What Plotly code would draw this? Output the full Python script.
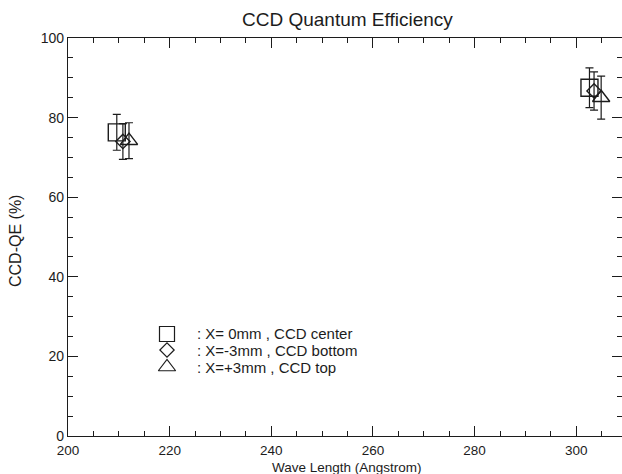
import plotly.graph_objects as go

# Measured CCD quantum efficiency at two wavelengths, three CCD positions
wavelength_center = [209.6, 302.6]
qe_center = [76.3, 87.5]
err_center = [4.5, 5.0]

wavelength_bottom = [210.8, 303.5]
qe_bottom = [74.0, 86.7]
err_bottom = [4.5, 4.8]

wavelength_top = [212.0, 304.9]
qe_top = [74.2, 85.0]
err_top = [4.5, 5.4]

legend_labels = [": X= 0mm , CCD center", ": X=-3mm , CCD bottom", ": X=+3mm , CCD top"]

W, H = 622, 474
ML, MR, MT, MB = 68, 0, 38, 38
INK = "#1c1c1c"
FONT = "Liberation Sans, Arial, Helvetica, sans-serif"


def px_x(px):
    return (px - ML) / (W - ML - MR)


def px_y(py):
    return (H - MB - py) / (H - MT - MB)


fig = go.Figure()
series = [
    (wavelength_center, qe_center, err_center, "square-open", 17),
    (wavelength_bottom, qe_bottom, err_bottom, "diamond-open", 11),
    (wavelength_top, qe_top, err_top, "triangle-up-open", 15),
]
for xs, ys, es, sym, size in series:
    fig.add_trace(go.Scatter(
        x=xs, y=ys, mode="markers",
        marker=dict(symbol=sym, size=size, color=INK, line=dict(width=1.4, color=INK)),
        error_y=dict(type="data", array=es, visible=True, color=INK, thickness=1.2, width=4),
        cliponaxis=False, showlegend=False,
    ))

# Legend keys drawn on a hidden pixel-scaled overlay axis
key_x = [167, 167, 167]
key_y = [334, 350, 367]
key_symbols = ["square-open", "diamond-open", "triangle-up-open"]
key_sizes = [15, 11, 15]
for kx, ky, sym, size in zip(key_x, key_y, key_symbols, key_sizes):
    fig.add_trace(go.Scatter(
        x=[kx], y=[ky], mode="markers", xaxis="x2", yaxis="y2",
        marker=dict(symbol=sym, size=size, color=INK, line=dict(width=1.2, color=INK)),
        cliponaxis=False, showlegend=False, hoverinfo="skip",
    ))

axis_common = dict(
    showline=True, linecolor=INK, linewidth=1.3, mirror="allticks",
    ticks="inside", ticklen=10, tickwidth=1.2, tickcolor=INK,
    showgrid=False, zeroline=False,
    minor=dict(ticks="inside", ticklen=5, tickwidth=1, tickcolor=INK, dtick=5, showgrid=False),
)

fig.update_xaxes(range=[200, 309], tick0=200, dtick=20, ticklabelstandoff=2,
                 tickfont=dict(family=FONT, size=13.5, color=INK), **axis_common)
fig.update_yaxes(range=[0, 100], tick0=0, dtick=20,
                 tickfont=dict(family=FONT, size=14, color=INK), **axis_common)

annotations = [
    dict(text="CCD Quantum Efficiency", x=px_x(347), y=px_y(20), xanchor="center", yanchor="middle",
         font=dict(family=FONT, size=19, color=INK)),
    dict(text="Wave Length (Angstrom)", x=px_x(347), y=px_y(467), xanchor="center", yanchor="middle",
         font=dict(family=FONT, size=13.5, color=INK)),
    dict(text="CCD-QE (%)", x=px_x(15), y=px_y(241), xanchor="center", yanchor="middle", textangle=-90,
         font=dict(family=FONT, size=16, color=INK)),
]
rows_y = [333, 350, 367]
for label, ry in zip(legend_labels, rows_y):
    annotations.append(dict(text=label, x=px_x(195), y=px_y(ry), xanchor="left", yanchor="middle",
                            font=dict(family=FONT, size=15, color=INK)))
for a in annotations:
    a.update(xref="paper", yref="paper", showarrow=False)

fig.update_layout(
    width=W, height=H,
    margin=dict(l=ML, r=MR, t=MT, b=MB),
    paper_bgcolor="white", plot_bgcolor="white",
    annotations=annotations,
    xaxis2=dict(overlaying="x", range=[ML, W - MR], visible=False),
    yaxis2=dict(overlaying="y", range=[H - MB, MT], visible=False),
)

fig.write_html("out.html")
